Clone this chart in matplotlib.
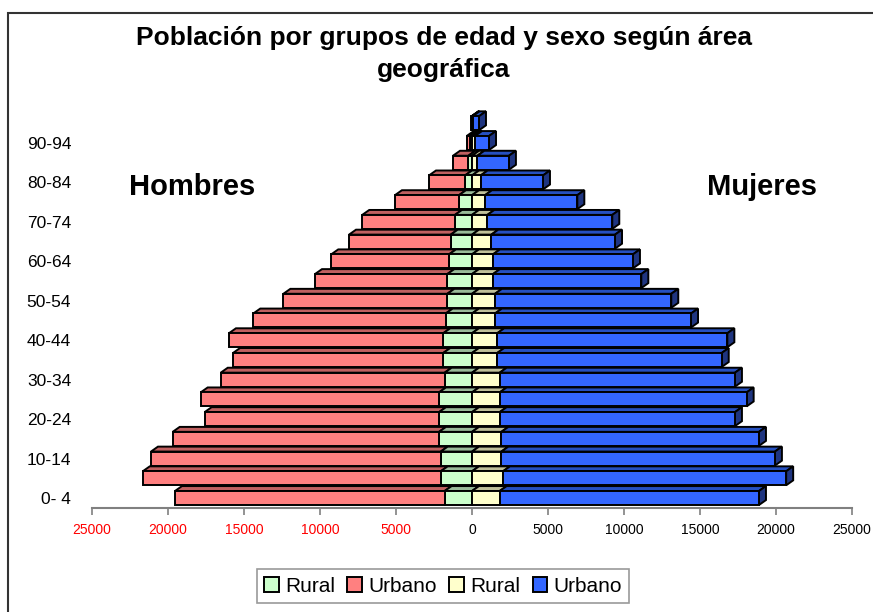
import numpy as np
import matplotlib
matplotlib.use("Agg")
import matplotlib.pyplot as plt
from matplotlib.patches import Polygon, Rectangle

plt.rcParams['font.family'] = ['Liberation Sans', 'DejaVu Sans']

# grupos de edad (de abajo hacia arriba)
grupos = ['0- 4', '5- 9', '10-14', '15-19', '20-24', '25-29', '30-34', '35-39',
          '40-44', '45-49', '50-54', '55-59', '60-64', '65-69', '70-74',
          '75-79', '80-84', '85-89', '90-94', '95 y más']

hombres_rural = [1800, 2060, 2060, 2170, 2170, 2170, 1800, 1890, 1890, 1730,
                 1625, 1625, 1510, 1400, 1120, 855, 460, 240, 150, 10]
hombres_urbano = [17740, 19600, 19060, 17520, 15420, 15680, 14730, 13830, 14100, 12660,
                  10785, 8705, 7750, 6690, 6100, 4215, 2370, 1010, 200, 30]
mujeres_rural = [1820, 2040, 1930, 1930, 1820, 1820, 1820, 1660, 1660, 1510,
                 1510, 1380, 1380, 1270, 1010, 855, 570, 350, 200, 40]
mujeres_urbano = [17060, 18630, 18000, 16950, 15480, 16250, 15480, 14770, 15140, 12900,
                  11600, 9760, 9210, 8140, 8220, 6075, 4100, 2080, 920, 420]

xticks = [-25000, -20000, -15000, -10000, -5000, 0, 5000, 10000, 15000, 20000, 25000]

c_green, c_green_top = '#CCFFCC', '#99BB99'
c_salmon, c_salmon_top = '#FF8080', '#C06060'
c_yellow, c_yellow_top = '#FFFFCC', '#C0C099'
c_blue, c_blue_top, c_blue_side = '#3366FF', '#2650C0', '#1F3580'

fig = plt.figure(figsize=(8.73, 6.12), dpi=100)
ax = fig.add_axes([92 / 873, 1 - 508 / 612, 760 / 873, 408 / 612])
ax.set_xlim(-25000, 25000)
ax.set_ylim(-0.507, 20.18)

y = np.arange(len(grupos))
hr = np.array(hombres_rural)
hu = np.array(hombres_urbano)
mr = np.array(mujeres_rural)
mu = np.array(mujeres_urbano)

h = 0.71
dx = 460      # profundidad 3D en unidades de x
dy = 0.25     # profundidad 3D en unidades de y
lw = 1.4

def top_face(x0, x1, yc, color):
    t = yc + h / 2
    p = Polygon([(x0, t), (x1, t), (x1 + dx, t + dy), (x0 + dx, t + dy)],
                closed=True, facecolor=color, edgecolor='black', lw=lw, zorder=1)
    ax.add_patch(p)

def side_face(x1, yc, color):
    b = yc - h / 2
    t = yc + h / 2
    p = Polygon([(x1, b), (x1 + dx, b + dy), (x1 + dx, t + dy), (x1, t)],
                closed=True, facecolor=color, edgecolor='black', lw=lw, zorder=1)
    ax.add_patch(p)

# caras superiores y laterales
for i in range(len(grupos)):
    top_face(-(hr[i] + hu[i]), -hr[i], y[i], c_salmon_top)
    top_face(-hr[i], 0, y[i], c_green_top)
    top_face(0, mr[i], y[i], c_yellow_top)
    top_face(mr[i], mr[i] + mu[i], y[i], c_blue_top)
    side_face(mr[i] + mu[i], y[i], c_blue_side)

b1 = ax.barh(y, -hr, height=h, color=c_green, edgecolor='black', lw=lw, zorder=2, label='Rural')
b2 = ax.barh(y, -hu, left=-hr, height=h, color=c_salmon, edgecolor='black', lw=lw, zorder=2, label='Urbano')
b3 = ax.barh(y, mr, height=h, color=c_yellow, edgecolor='black', lw=lw, zorder=2, label='Rural')
b4 = ax.barh(y, mu, left=mr, height=h, color=c_blue, edgecolor='black', lw=lw, zorder=2, label='Urbano')

for s in ['top', 'left', 'right']:
    ax.spines[s].set_visible(False)
ax.spines['bottom'].set_color('#808080')
ax.spines['bottom'].set_linewidth(1.5)

ax.set_xticks(xticks)
ax.set_xticklabels([str(abs(v)) for v in xticks], fontsize=10)
for lab, v in zip(ax.get_xticklabels(), xticks):
    lab.set_color('red' if v < 0 else 'black')
ax.tick_params(axis='x', direction='out', length=5, width=1.2, color='#808080', pad=6)

ax.set_yticks(y[::2])
ax.set_yticklabels(grupos[::2], fontsize=12.5)
ax.tick_params(axis='y', length=0, pad=15)

fig.text(444 / 873, 1 - 54 / 612, 'Población por grupos de edad y sexo según área\ngeográfica',
         ha='center', va='center', fontsize=19, fontweight='bold', linespacing=1.38)
fig.text(192 / 873, 1 - 187 / 612, 'Hombres', ha='center', va='center',
         fontsize=21, fontweight='bold')
fig.text(762 / 873, 1 - 187 / 612, 'Mujeres', ha='center', va='center',
         fontsize=21, fontweight='bold')

leg = fig.legend(handles=[b1, b2, b3, b4], labels=['Rural', 'Urbano', 'Rural', 'Urbano'],
                 loc='center', bbox_to_anchor=(443 / 873, 1 - 586 / 612), ncol=4,
                 fontsize=15, frameon=True, fancybox=False, edgecolor='#808080',
                 handlelength=0.7, handleheight=0.7, handletextpad=0.3,
                 columnspacing=0.6, borderpad=0.35)
leg.get_frame().set_linewidth(1.2)

fig.patches.append(Rectangle((8 / 873, -0.1), 2, 1 - 13 / 612 + 0.1, transform=fig.transFigure,
                             fill=False, edgecolor='#333333', lw=1.5))

fig.savefig('out.png', dpi=100)
